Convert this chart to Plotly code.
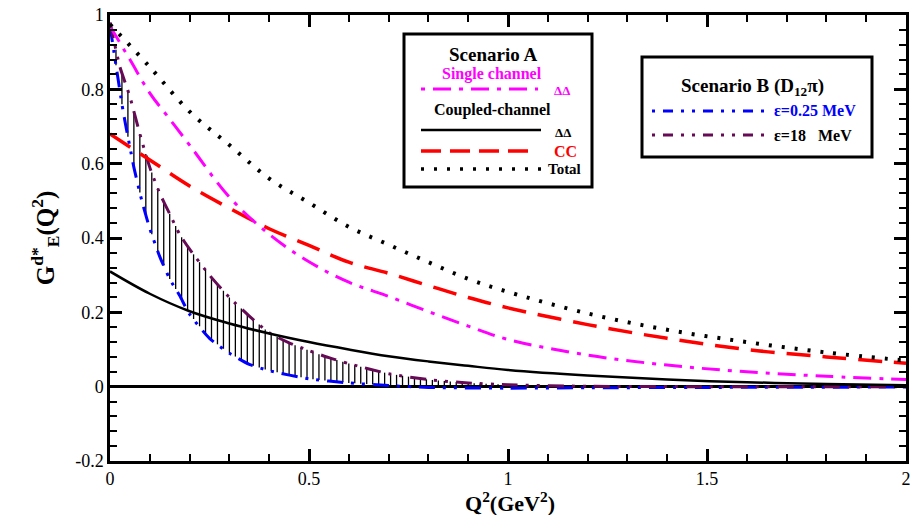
import numpy as np
import plotly.graph_objects as go

# ---- data: d* electric form factor vs Q^2 ----
q_tot = [0, 0.1, 0.2, 0.3, 0.4, 0.5, 0.6, 0.7, 0.8, 0.9, 1.0, 1.2, 1.4, 1.6, 1.8, 2.0]
g_total = [0.975, 0.86, 0.74, 0.65, 0.56, 0.495, 0.43, 0.382, 0.335, 0.29, 0.255, 0.197, 0.153, 0.12, 0.092, 0.07]

q_cc = [0, 0.1, 0.2, 0.3, 0.4, 0.5, 0.6, 0.7, 0.8, 0.9, 1.0, 1.2, 1.4, 1.6, 1.8, 2.0]
g_cc = [0.68, 0.61, 0.54, 0.48, 0.425, 0.38, 0.335, 0.305, 0.272, 0.24, 0.212, 0.167, 0.13, 0.10, 0.08, 0.063]

q_dd_single = [0, 0.05, 0.1, 0.15, 0.2, 0.3, 0.4, 0.5, 0.6, 0.7, 0.8, 0.9, 1.0, 1.2, 1.4, 1.6, 1.8, 2.0]
g_dd_single = [0.97, 0.88, 0.79, 0.72, 0.65, 0.51, 0.41, 0.336, 0.281, 0.243, 0.202, 0.163, 0.127, 0.085, 0.058, 0.04, 0.028, 0.019]

q_dd_coupled = [0, 0.1, 0.2, 0.3, 0.4, 0.5, 0.6, 0.7, 0.8, 0.9, 1.0, 1.2, 1.4, 1.6, 1.8, 2.0]
g_dd_coupled = [0.31, 0.25, 0.203, 0.17, 0.143, 0.12, 0.1, 0.082, 0.068, 0.056, 0.045, 0.03, 0.019, 0.012, 0.007, 0.004]

q_eps025 = [0, 0.01, 0.02, 0.03, 0.04, 0.05, 0.06, 0.08, 0.1, 0.125, 0.15, 0.175, 0.2, 0.25, 0.3,
            0.35, 0.4, 0.5, 0.6, 0.7, 0.8, 1.0, 1.2, 1.5, 2.0]
g_eps025 = [0.97, 0.9, 0.83, 0.76, 0.70, 0.645, 0.59, 0.50, 0.425, 0.35, 0.29, 0.245, 0.195, 0.13, 0.09,
            0.06, 0.043, 0.021, 0.01, 0.003, -0.002, -0.004, -0.003, -0.002, -0.001]

q_eps18 = [0, 0.01, 0.025, 0.05, 0.075, 0.1, 0.125, 0.15, 0.175, 0.2, 0.25, 0.3, 0.35, 0.4, 0.45,
           0.5, 0.55, 0.6, 0.7, 0.8, 0.9, 1.0, 1.2, 1.5, 2.0]
g_eps18 = [0.98, 0.93, 0.86, 0.78, 0.68, 0.59, 0.52, 0.465, 0.41, 0.37, 0.30, 0.24, 0.19, 0.145, 0.118,
           0.097, 0.078, 0.062, 0.035, 0.019, 0.01, 0.005, 0.001, 0.0, 0.0]

x_ticks = [0, 0.5, 1, 1.5, 2]
x_tick_text = ["0", "0.5", "1", "1.5", "2"]
y_ticks = [-0.2, 0, 0.2, 0.4, 0.6, 0.8, 1]
y_tick_text = ["-0.2", "0", "0.2", "0.4", "0.6", "0.8", "1"]

MAGENTA = "#ff00ff"
RED = "#ff0000"
BLUE = "#0000ff"
PURPLE = "#660a55"
SERIF = "Times New Roman, Liberation Serif, DejaVu Serif, serif"

fig = go.Figure()

# vertical hatching between the two Scenario B curves
hx = np.arange(0.015, 1.0, 0.015)
lo = np.interp(hx, q_eps025, g_eps025)
hi = np.interp(hx, q_eps18, g_eps18)
xs, ys = [], []
for xv, a, b in zip(hx, lo, hi):
    xs += [xv, xv, None]
    ys += [a, b, None]
fig.add_trace(go.Scatter(x=xs, y=ys, mode="lines", line=dict(color="black", width=1.3),
                         hoverinfo="skip"))

dd2 = "16px,8px,3px,8px,3px,8px"
fig.add_trace(go.Scatter(x=q_eps025, y=g_eps025, mode="lines",
                         line=dict(color=BLUE, width=3, dash=dd2, shape="spline", smoothing=0.6)))
fig.add_trace(go.Scatter(x=q_eps18, y=g_eps18, mode="lines",
                         line=dict(color=PURPLE, width=3, dash=dd2, shape="spline", smoothing=0.6)))
fig.add_trace(go.Scatter(x=q_dd_coupled, y=g_dd_coupled, mode="lines",
                         line=dict(color="black", width=2.5, shape="spline")))
fig.add_trace(go.Scatter(x=q_cc, y=g_cc, mode="lines",
                         line=dict(color=RED, width=3.5, dash="24px,12px", shape="spline")))
fig.add_trace(go.Scatter(x=q_dd_single, y=g_dd_single, mode="lines",
                         line=dict(color=MAGENTA, width=3, dash="18px,8px,4px,8px", shape="spline")))
fig.add_trace(go.Scatter(x=q_tot, y=g_total, mode="lines",
                         line=dict(color="black", width=4, dash="3px,10px", shape="spline")))

# ---- legend boxes placed in paper pixels ----
W, H = 914, 515
L, R, T, B = 110, 906, 15, 461


def px(x):
    return (x - L) / (R - L)


def py(y):
    return (B - y) / (B - T)


shapes = []
annots = []


def box(x0, y0, x1, y1):
    shapes.append(dict(type="rect", xref="paper", yref="paper", x0=px(x0), x1=px(x1),
                       y0=py(y1), y1=py(y0), line=dict(color="black", width=3),
                       fillcolor="white", layer="above"))


def sample(x0, x1, y, color, width, dash):
    shapes.append(dict(type="line", xref="paper", yref="paper", x0=px(x0), x1=px(x1),
                       y0=py(y), y1=py(y), line=dict(color=color, width=width, dash=dash),
                       layer="above"))


def label(x, y, text, color="black", size=12, anchor="center"):
    annots.append(dict(xref="paper", yref="paper", x=px(x), y=py(y), text=text, showarrow=False,
                       xanchor=anchor, yanchor="middle",
                       font=dict(family=SERIF, size=size, color=color)))


# Scenario A
box(404, 34, 592, 187)
label(493, 54, "<b>Scenario A</b>", size=19)
label(492, 74, "<b>Single channel</b>", MAGENTA, 16)
sample(421, 538, 89, MAGENTA, 3, "4px,8px,18px,8px")
label(552, 90, "<b>ΔΔ</b>", MAGENTA, 13, "left")
label(492, 110, "<b>Coupled-channel</b>", "black", 16)
sample(421, 541, 130, "black", 2.5, "solid")
label(553, 132, "<b>ΔΔ</b>", "black", 13, "left")
sample(421, 536, 151, RED, 3.5, "20px,9px")
label(552, 151, "<b>CC</b>", RED, 16, "left")
sample(421, 544, 169, "black", 3.5, "3px,10px")
label(546, 169, "<b>Total</b>", "black", 15, "left")

# Scenario B
box(642, 57, 872, 157)
label(752, 87, "<b>Scenario B (D<sub>12</sub>π)</b>", size=19)
sample(652, 770, 111, BLUE, 3, "3px,8px,10px,8px,3px,8px")
label(772, 111, "<b>ε=0.25 MeV</b>", BLUE, 16, "left")
sample(652, 770, 135, PURPLE, 3, "3px,8px,10px,8px,3px,8px")
label(772, 135, "<b>ε=18&nbsp;&nbsp;&nbsp;MeV</b>", "black", 16, "left")

# x-axis title
label(510, 502, "<b>Q<sup>2</sup>(GeV<sup>2</sup>)</b>", "black", 22)

axis_common = dict(showline=True, linecolor="black", linewidth=2.5, mirror="ticks",
                   ticks="inside", ticklen=12, tickwidth=2.5, tickcolor="black",
                   showgrid=False, tickfont=dict(family=SERIF, size=18, color="black"))

fig.update_layout(
    width=W, height=H,
    margin=dict(l=L, r=W - R, t=T, b=H - B),
    paper_bgcolor="white", plot_bgcolor="white",
    showlegend=False,
    shapes=shapes, annotations=annots,
    xaxis=dict(range=[0, 2], tickvals=x_ticks, ticktext=x_tick_text,
               minor=dict(ticks="inside", ticklen=7, tickwidth=2, tickcolor="black", dtick=0.1),
               zeroline=False, automargin=False,
               **axis_common),
    yaxis=dict(range=[-0.2, 1], tickvals=y_ticks, ticktext=y_tick_text,
               minor=dict(ticks="inside", ticklen=7, tickwidth=2, tickcolor="black", dtick=0.04),
               zeroline=True, zerolinecolor="black", zerolinewidth=2.5, automargin=False,
               title=dict(text="<b>G<sup>d*</sup><sub>E</sub>(Q<sup>2</sup>)</b>",
                          font=dict(family=SERIF, size=25, color="black"), standoff=14),
               **axis_common),
)

fig.write_html("out.html")
